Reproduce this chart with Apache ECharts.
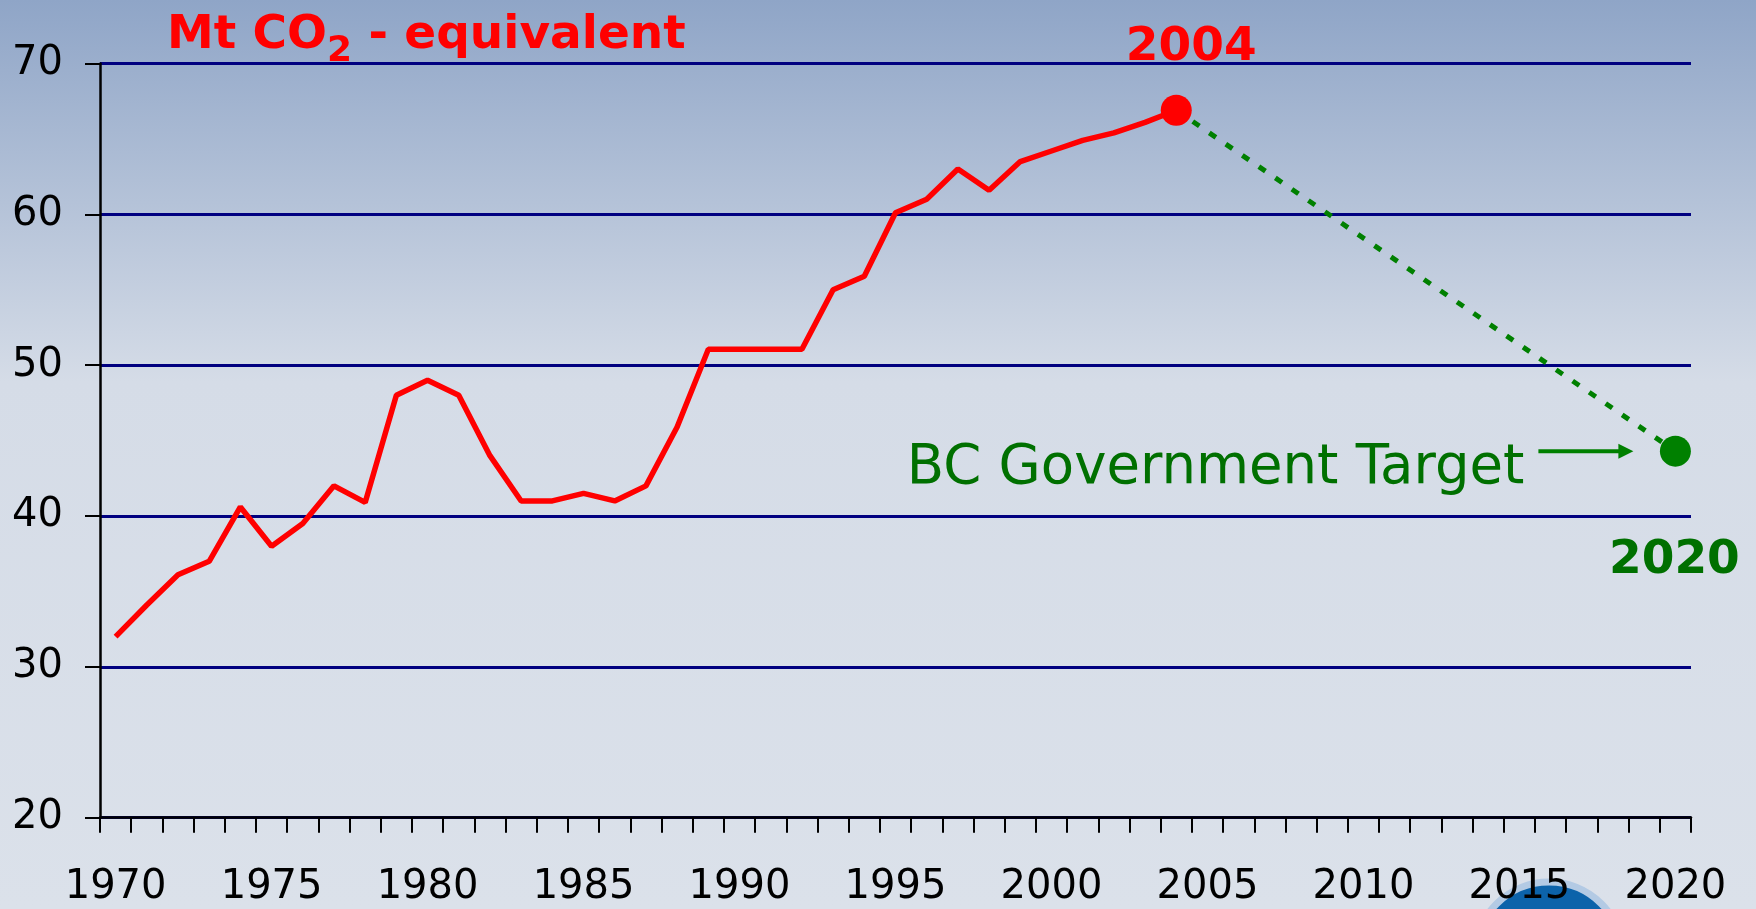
<!DOCTYPE html>
<html>
<head>
<meta charset="utf-8">
<title>BC emissions</title>
<script src="https://cdn.jsdelivr.net/npm/echarts@6/dist/echarts.min.js"></script>
<style>
  html, body { margin: 0; padding: 0; }
  #chart { width: 1756px; height: 909px; }
</style>
</head>
<body>
<div id="chart"></div>
<script>
// years on the x axis
const years = ['1970','1971','1972','1973','1974','1975','1976','1977','1978','1979',
  '1980','1981','1982','1983','1984','1985','1986','1987','1988','1989',
  '1990','1991','1992','1993','1994','1995','1996','1997','1998','1999',
  '2000','2001','2002','2003','2004','2005','2006','2007','2008','2009',
  '2010','2011','2012','2013','2014','2015','2016','2017','2018','2019','2020']

// Mt CO2-eq, 1970 - 2004
const emissions = [32.0, 34.1, 36.1, 37.0, 40.6, 38.0, 39.5, 42.0, 40.9, 48.0,
  49.0, 48.0, 44.0, 41.0, 41.0, 41.5, 41.0, 42.0, 45.9, 51.05,
  51.05, 51.05, 51.05, 55.0, 55.9, 60.1, 61.0, 63.0, 61.6, 63.5,
  64.2, 64.9, 65.4, 66.1, 66.9]

const targetYears = ['2004', '2020']
const targetValues = [66.9, 44.3]

const yTicks = { min: 20, max: 70, interval: 10 }

const FONT = 'DejaVu Sans, Verdana, sans-serif'
const RED = '#ff0000'
const GREEN = '#008000'
const TEXT_GREEN = '#007000'

// dotted target line: null between the two ends, joined with connectNulls
let targetLine = years.map(y => {
  let k = targetYears.indexOf(y)
  return k >= 0 ? targetValues[k] : null
})

let chart = echarts.init(document.getElementById('chart'))

chart.setOption({
  animation: false,
  backgroundColor: {
    type: 'linear', x: 0, y: 0, x2: 0, y2: 1,
    colorStops: [
      { offset: 0, color: '#8fa5c7' },
      { offset: 0.42, color: '#d5dce7' },
      { offset: 1, color: '#dbe1ea' }
    ]
  },
  title: {
    text: '{a|Mt CO}{s|2}{a| - equivalent}',
    left: 167,
    top: 12,
    padding: 0,
    textStyle: {
      rich: {
        a: { fontSize: 47, fontWeight: 'bold', color: RED, fontFamily: FONT, lineHeight: 47 },
        s: { fontSize: 36, fontWeight: 'bold', color: RED, fontFamily: FONT, lineHeight: 36, padding: [33, 0, 0, 0] }
      }
    }
  },
  grid: {
    left: 100,
    right: 65,
    top: 63.5,
    bottom: 91.3,
    containLabel: false
  },
  xAxis: {
    type: 'category',
    data: years,
    boundaryGap: true,
    axisLine: { lineStyle: { color: '#000', width: 2.5 } },
    axisTick: { show: true, interval: 0, length: 15, lineStyle: { color: '#000', width: 2 } },
    axisLabel: { interval: 4, fontSize: 40, fontFamily: FONT, color: '#000', margin: 50 },
    splitLine: { show: false },
    z: 5
  },
  yAxis: {
    type: 'value',
    min: yTicks.min,
    max: yTicks.max,
    interval: yTicks.interval,
    axisLine: { show: true, lineStyle: { color: '#000', width: 2.5 } },
    axisTick: { show: true, length: 15, lineStyle: { color: '#000', width: 2 } },
    axisLabel: { fontSize: 40, fontFamily: FONT, color: '#000', margin: 37 },
    splitLine: { lineStyle: { color: '#000080', width: 3 } }
  },
  series: [
    {
      name: 'emissions',
      type: 'line',
      data: emissions,
      symbol: 'none',
      lineStyle: { color: RED, width: 5.5 },
      z: 3
    },
    {
      name: 'target',
      type: 'line',
      data: targetLine,
      connectNulls: true,
      symbol: 'none',
      lineStyle: { color: GREEN, width: 5, type: [8, 12] },
      z: 2
    },
    {
      name: 'ends',
      type: 'scatter',
      symbolSize: 31,
      z: 4,
      data: [
        {
          value: [targetYears[0], targetValues[0]],
          itemStyle: { color: RED, opacity: 1 },
          label: {
            show: true, formatter: targetYears[0], position: 'inside', offset: [15, -62],
            fontSize: 47, fontWeight: 'bold', fontFamily: FONT, color: RED, opacity: 1
          }
        },
        {
          value: [targetYears[1], targetValues[1]],
          itemStyle: { color: GREEN, opacity: 1 },
          label: {
            show: true, formatter: targetYears[1], position: 'inside', offset: [-1, 110],
            fontSize: 47, fontWeight: 'bold', fontFamily: FONT, color: TEXT_GREEN, opacity: 1
          }
        }
      ]
    }
  ]
})

// arrow + caption placed relative to the 2020 point
let p = chart.convertToPixel({ gridIndex: 0 }, [years.indexOf(targetYears[1]), targetValues[1]])
chart.setOption({
  graphic: [
    {
      type: 'circle',
      z: -1,
      shape: { cx: 1549, cy: 956, r: 74 },
      style: { fill: '#0c63aa', stroke: '#b3cae4', lineWidth: 7 }
    },
    {
      type: 'text',
      z: 10,
      style: {
        text: 'BC Government Target',
        x: p[0] - 151, y: p[1] + 18,
        align: 'right', verticalAlign: 'middle',
        fontSize: 54.5, fontFamily: FONT, fill: TEXT_GREEN
      }
    },
    {
      type: 'line',
      z: 10,
      shape: { x1: p[0] - 137, y1: p[1], x2: p[0] - 55, y2: p[1] },
      style: { stroke: GREEN, lineWidth: 4 }
    },
    {
      type: 'polygon',
      z: 10,
      shape: { points: [[p[0] - 57, p[1] - 7.5], [p[0] - 42, p[1]], [p[0] - 57, p[1] + 7.5]] },
      style: { fill: GREEN }
    }
  ]
})
</script>
</body>
</html>
